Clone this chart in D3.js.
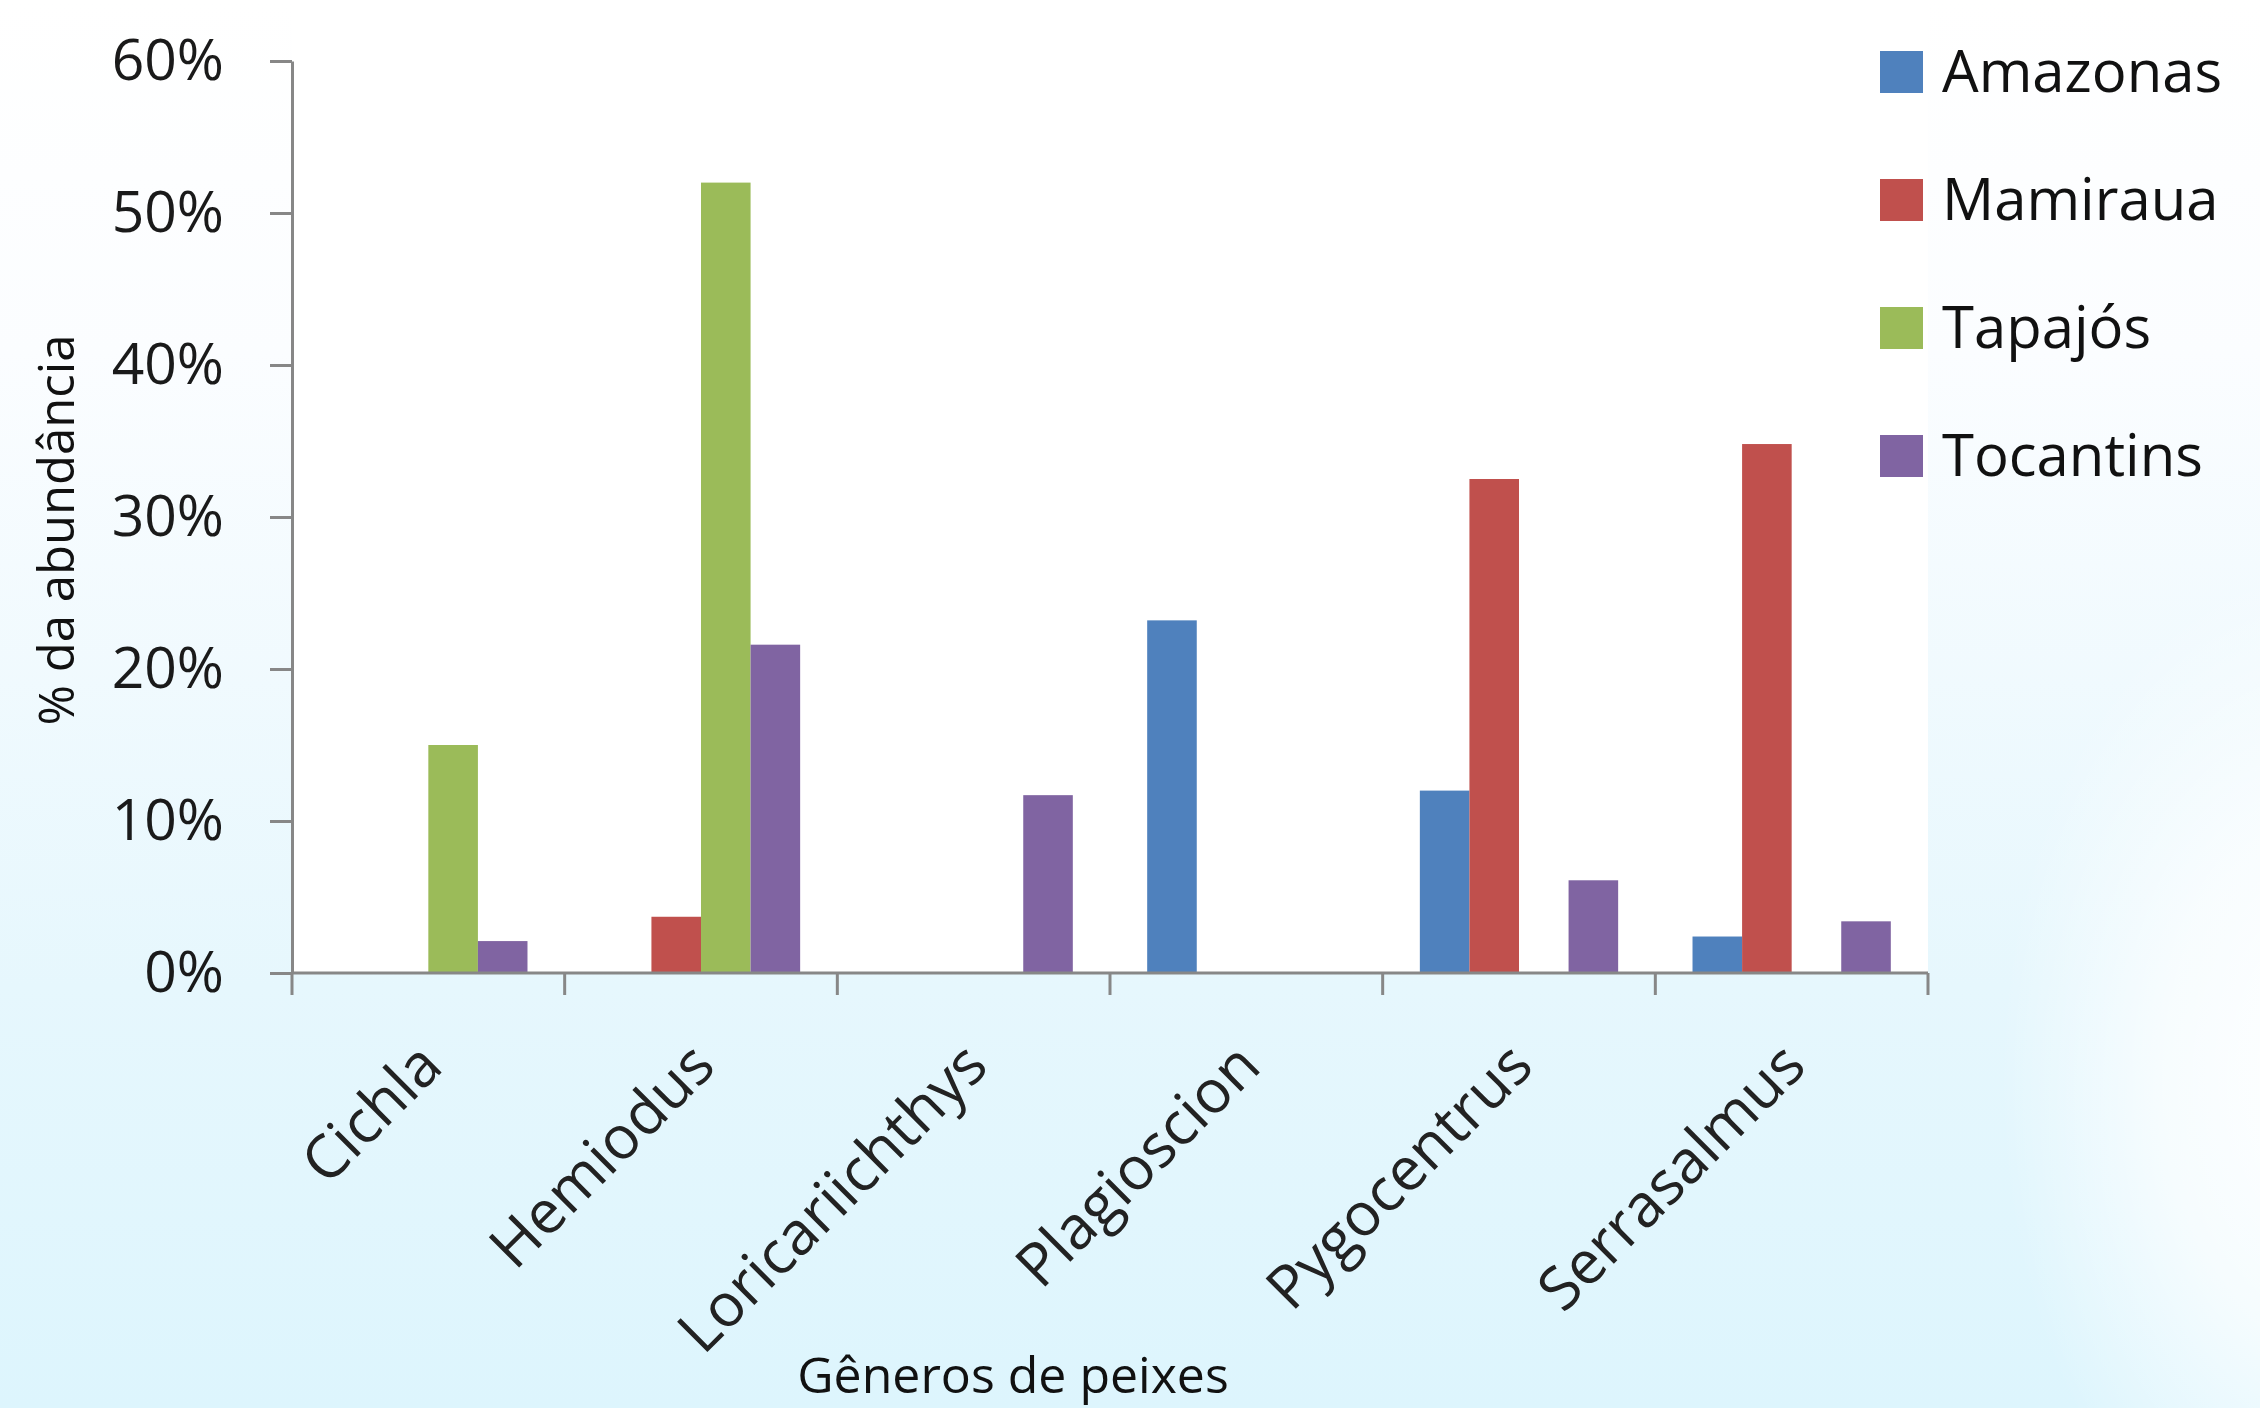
<!DOCTYPE html>
<html>
<head>
<meta charset="utf-8">
<script src="https://cdn.jsdelivr.net/npm/d3@7"></script>
<style>
  html, body { margin: 0; padding: 0; }
  body { width: 2260px; height: 1408px; overflow: hidden; }
</style>
</head>
<body>
<script>
var width = 2260,
    height = 1408;

// generos e bacias
var categories = ["Cichla", "Hemiodus", "Loricariichthys", "Plagioscion", "Pygocentrus", "Serrasalmus"];
var seriesNames = ["Amazonas", "Mamiraua", "Tapajós", "Tocantins"];
var seriesColors = ["#4f81bd", "#c0504d", "#9bbb59", "#8064a2"];

// % da abundancia por bacia
var amazonas  = [0, 0, 0, 23.2, 12.0, 2.4];
var mamiraua  = [0, 3.7, 0, 0, 32.5, 34.8];
var tapajos   = [15.0, 52.0, 0, 0, 0, 0];
var tocantins = [2.1, 21.6, 11.7, 0, 6.1, 3.4];

var yTicks = [0, 10, 20, 30, 40, 50, 60];

var seriesValues = [amazonas, mamiraua, tapajos, tocantins];

var plot = { left: 292, right: 1928, top: 61, bottom: 973 };

var svg = d3.select("body").append("svg")
    .attr("width", width)
    .attr("height", height);

var defs = svg.append("defs");
var bg = defs.append("linearGradient")
    .attr("id", "bg").attr("x1", 0).attr("y1", 0).attr("x2", 0).attr("y2", 1);
bg.append("stop").attr("offset", "0").attr("stop-color", "#ffffff");
bg.append("stop").attr("offset", "0.25").attr("stop-color", "#fbfdff");
bg.append("stop").attr("offset", "0.7").attr("stop-color", "#e6f7fd");
bg.append("stop").attr("offset", "1").attr("stop-color", "#ddf5fd");

var glow = defs.append("radialGradient")
    .attr("id", "glow").attr("cx", 0.5).attr("cy", 0.5).attr("r", 0.5);
glow.append("stop").attr("offset", "0").attr("stop-color", "#ffffff").attr("stop-opacity", 1);
glow.append("stop").attr("offset", "0.5").attr("stop-color", "#ffffff").attr("stop-opacity", 0.7);
glow.append("stop").attr("offset", "1").attr("stop-color", "#ffffff").attr("stop-opacity", 0);

svg.append("rect").attr("width", width).attr("height", height).attr("fill", "url(#bg)");
svg.append("ellipse")
    .attr("cx", 2330).attr("cy", 1080).attr("rx", 330).attr("ry", 520)
    .attr("fill", "url(#glow)");

// plot area wit
svg.append("rect")
    .attr("x", plot.left).attr("y", 0)
    .attr("width", plot.right - plot.left).attr("height", plot.bottom)
    .attr("fill", "#ffffff");

var x0 = d3.scaleBand()
    .domain(categories)
    .range([plot.left, plot.right])
    .paddingInner(0).paddingOuter(0);

var x1 = d3.scaleBand()
    .domain(seriesNames)
    .range([0, x0.bandwidth()])
    .paddingInner(0).paddingOuter(0.75);

var y = d3.scaleLinear()
    .domain([0, 60])
    .range([plot.bottom, plot.top]);

var color = d3.scaleOrdinal().domain(seriesNames).range(seriesColors);

// balken
var groups = svg.selectAll(".cat")
    .data(categories)
  .enter().append("g")
    .attr("class", "cat")
    .attr("transform", function(d) { return "translate(" + x0(d) + ",0)"; });

groups.selectAll("rect")
    .data(function(d, i) {
      return seriesNames.map(function(s, j) { return { serie: s, value: seriesValues[j][i] }; });
    })
  .enter().append("rect")
    .attr("x", function(d) { return x1(d.serie); })
    .attr("y", function(d) { return y(d.value); })
    .attr("width", x1.bandwidth())
    .attr("height", function(d) { return y(0) - y(d.value); })
    .attr("fill", function(d) { return color(d.serie); });

// y as
var yAxis = svg.append("g")
    .attr("transform", "translate(" + plot.left + ",0)")
    .call(d3.axisLeft(y).tickValues(yTicks).tickFormat(function(d) { return d + "%"; })
      .tickSize(22).tickSizeOuter(0).tickPadding(46));

yAxis.select(".domain").attr("stroke", "#878787").attr("stroke-width", 3);
yAxis.selectAll(".tick line").attr("stroke", "#878787").attr("stroke-width", 3);
yAxis.selectAll(".tick text")
    .attr("fill", "#1a1a1a")
    .style("font-family", "'Open Sans', sans-serif")
    .style("font-size", "57px");

// x as
var xAxisG = svg.append("g").attr("class", "xaxis");
xAxisG.append("line")
    .attr("x1", plot.left).attr("x2", plot.right)
    .attr("y1", y(0)).attr("y2", y(0))
    .attr("stroke", "#878787").attr("stroke-width", 3);

var bounds = categories.map(function(c) { return x0(c); }).concat([x0(categories[categories.length - 1]) + x0.bandwidth()]);
xAxisG.selectAll(".btick")
    .data(bounds)
  .enter().append("line")
    .attr("class", "btick")
    .attr("x1", function(d) { return d; }).attr("x2", function(d) { return d; })
    .attr("y1", y(0)).attr("y2", y(0) + 22)
    .attr("stroke", "#878787").attr("stroke-width", 3);

xAxisG.selectAll(".clabel")
    .data(categories)
  .enter().append("text")
    .attr("class", "clabel")
    .attr("transform", function(d) {
      return "translate(" + (x0(d) + x0.bandwidth() / 2 + 2) + "," + 1054 + ") rotate(-45)";
    })
    .attr("text-anchor", "end")
    .attr("dy", "0.35em")
    .attr("fill", "#222")
    .style("font-family", "'Open Sans', sans-serif")
    .style("font-size", "60px")
    .text(function(d) { return d; });

// as titels
svg.append("text")
    .attr("transform", "translate(74,530) rotate(-90)")
    .attr("text-anchor", "middle")
    .attr("fill", "#111")
    .style("font-family", "'Open Sans', sans-serif")
    .style("font-size", "49px")
    .text("% da abundância");

svg.append("text")
    .attr("x", 1013).attr("y", 1393)
    .attr("text-anchor", "middle")
    .attr("fill", "#111")
    .style("font-family", "'Open Sans', sans-serif")
    .style("font-size", "50px")
    .text("Gêneros de peixes");

// legenda
var legend = svg.selectAll(".legend")
    .data(seriesNames)
  .enter().append("g")
    .attr("class", "legend")
    .attr("transform", function(d, i) { return "translate(1880," + (72 + i * 128) + ")"; });

legend.append("rect")
    .attr("x", 0).attr("y", -21)
    .attr("width", 43).attr("height", 42)
    .attr("fill", function(d) { return color(d); });

legend.append("text")
    .attr("x", 62).attr("dy", "0.35em")
    .attr("fill", "#111")
    .style("font-family", "'Open Sans', sans-serif")
    .style("font-size", "58px")
    .text(function(d) { return d; });
</script>
</body>
</html>
